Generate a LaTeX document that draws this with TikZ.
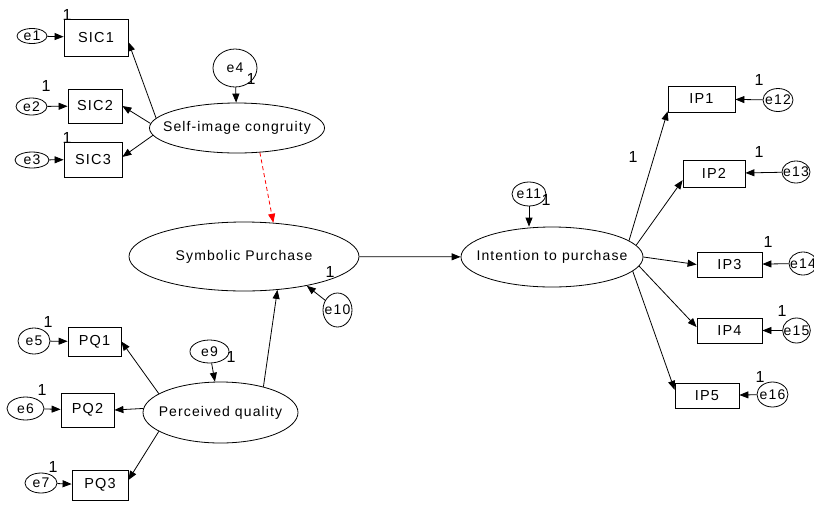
\documentclass[tikz,border=0pt]{standalone}
\usepackage{fontspec}
\setmainfont{Liberation Sans}[LetterSpace=8]
\usetikzlibrary{shapes.geometric}
\usetikzlibrary{positioning}
\usetikzlibrary{arrows.meta}

\begin{document}
\begin{tikzpicture}[x=1pt, y=-1pt,
    manifest/.style={draw, rectangle, inner sep=0pt, line width=0.8pt, font=\fontsize{14.5}{16}\selectfont},
    latent/.style={draw, ellipse, inner xsep=-12pt, inner ysep=0pt, line width=0.8pt, font=\fontsize{14}{16}\selectfont},
    errvar/.style={draw, ellipse, inner xsep=-3pt, inner ysep=-1pt, line width=0.8pt, font=\fontsize{14}{15}\selectfont},
    fixed/.style={inner sep=0pt, font=\fontsize{16}{16}\selectfont},
    regarrow/.style={-{Triangle[length=9pt,width=7pt]}, line width=0.8pt}]
            \useasboundingbox (0,0) rectangle (814,504);
            % Self-image congruity and its indicators
            \node[latent, minimum width=172pt, minimum height=50pt] (selfimg) at (237,128) {Self-image congruity};
            \node[manifest, minimum width=64pt, minimum height=37pt] (sic1) at (96,37.5) {SIC1};
            \node[manifest, minimum width=54pt, minimum height=34pt] (sic2) at (95,106) {SIC2};
            \node[manifest, minimum width=58pt, minimum height=35pt] (sic3) at (93,159.5) {SIC3};
            \node[errvar, minimum width=30pt, minimum height=15pt] (e1) at (32,36) {e1};
            \node[errvar, minimum width=31pt, minimum height=17pt] (e2) at (31.5,106.5) {e2};
            \node[errvar, minimum width=34pt, minimum height=16pt] (e3) at (32,160) {e3};
            \node[errvar, minimum width=44pt, minimum height=38pt] (e4) at (235,68) {e4};
            
            % Symbolic purchase and perceived quality
            \node[latent, minimum width=230pt, minimum height=69pt] (symb) at (244,256.5) {Symbolic Purchase};
            \node[latent, minimum width=155pt, minimum height=61pt] (percq) at (220.5,412.5) {Perceived quality};
            \node[manifest, minimum width=53pt, minimum height=29pt] (pq1) at (94.5,341.5) {PQ1};
            \node[manifest, minimum width=53pt, minimum height=34pt] (pq2) at (87.5,410) {PQ2};
            \node[manifest, minimum width=56pt, minimum height=30pt] (pq3) at (100,485) {PQ3};
            \node[errvar, minimum width=32pt, minimum height=26pt] (e5) at (34,341) {e5};
            \node[errvar, minimum width=37pt, minimum height=23pt] (e6) at (25.5,408.5) {e6};
            \node[errvar, minimum width=32pt, minimum height=20pt] (e7) at (41,483) {e7};
            \node[errvar, minimum width=39pt, minimum height=23pt] (e9) at (209.5,351.5) {e9};
            \node[errvar, minimum width=29pt, minimum height=34pt] (e10) at (337.5,310) {e10};
            
            % Intention to purchase and its indicators
            \node[latent, minimum width=182pt, minimum height=60pt] (intent) at (552,257) {Intention to purchase};
            \node[errvar, minimum width=34pt, minimum height=24pt] (e11) at (529,194) {e11};
            \node[manifest, minimum width=67pt, minimum height=26pt] (ip1) at (701.5,99) {IP1};
            \node[manifest, minimum width=62pt, minimum height=27pt] (ip2) at (714,173.5) {IP2};
            \node[manifest, minimum width=65pt, minimum height=25pt] (ip3) at (729.5,264.5) {IP3};
            \node[manifest, minimum width=65pt, minimum height=25pt] (ip4) at (729.5,330.5) {IP4};
            \node[manifest, minimum width=64pt, minimum height=25pt] (ip5) at (707,395.5) {IP5};
            \node[errvar, minimum width=30pt, minimum height=23pt] (e12) at (778,100) {e12};
            \node[errvar, minimum width=28pt, minimum height=22pt] (e13) at (796,172) {e13};
            \node[errvar, minimum width=28pt, minimum height=23pt] (e14) at (803,263.5) {e14};
            \node[errvar, minimum width=27pt, minimum height=25pt] (e15) at (796.5,330.5) {e15};
            \node[errvar, minimum width=31pt, minimum height=25pt] (e16) at (772.5,394.5) {e16};
            
            % fixed weights
            \node[fixed] (w1) at (67,15) {1};
            \node[fixed] (w2) at (46,86) {1};
            \node[fixed] (w3) at (67,138) {1};
            \node[fixed] (w4) at (251,79) {1};
            \node[fixed] (w5) at (48,322) {1};
            \node[fixed] (w6) at (42,390) {1};
            \node[fixed] (w7) at (53,467) {1};
            \node[fixed] (w9) at (231,357) {1};
            \node[fixed] (w10) at (330,272) {1};
            \node[fixed] (w11) at (546,200) {1};
            \node[fixed] (w12) at (759,80) {1};
            \node[fixed] (w13) at (759,152) {1};
            \node[fixed] (w14) at (768,242) {1};
            \node[fixed] (w15) at (782,311) {1};
            \node[fixed] (w16) at (760,377) {1};
            \node[fixed] (wip) at (633,157) {1};
            
            \draw[regarrow] (e1) -- (sic1);
            \draw[regarrow] (e2) -- (sic2);
            \draw[regarrow] (e3) -- (sic3);
            \draw[regarrow] (e4) -- (selfimg);
            \draw[regarrow] (selfimg.173) -- (sic1.352);
            \draw[regarrow] (selfimg.177) -- (sic2.east);
            \draw[regarrow] (selfimg.185) -- (sic3.5);
            \draw[regarrow, red, dash pattern=on 4pt off 3pt] (selfimg.313) -- (symb.49);
            
            \draw[regarrow] (e5) -- (pq1);
            \draw[regarrow] (e6) -- (pq2);
            \draw[regarrow] (e7) -- (pq3);
            \draw[regarrow] (e9) -- (percq);
            \draw[regarrow] (e10) -- (symb.335);
            \draw[regarrow] (percq.163) -- (pq1.east);
            \draw[regarrow] (percq.177) -- (pq2.east);
            \draw[regarrow] (percq.197) -- (pq3.10);
            \draw[regarrow] (percq.31) -- (symb.315);
            \draw[regarrow] (symb) -- (intent);
            
            \draw[regarrow] (e11) -- (e11 |- intent.north);
            \draw[regarrow] (intent.12) -- (ip1.200);
            \draw[regarrow] (intent.8) -- (ip2.192);
            \draw[regarrow] (intent.east) -- (ip3.west);
            \draw[regarrow] (intent.354) -- (ip4.174);
            \draw[regarrow] (intent.350) -- (ip5.170);
            \draw[regarrow] (e12) -- (ip1);
            \draw[regarrow] (e13) -- (ip2);
            \draw[regarrow] (e14) -- (ip3);
            \draw[regarrow] (e15) -- (ip4);
            \draw[regarrow] (e16) -- (ip5);
        \end{tikzpicture}
\end{document}
